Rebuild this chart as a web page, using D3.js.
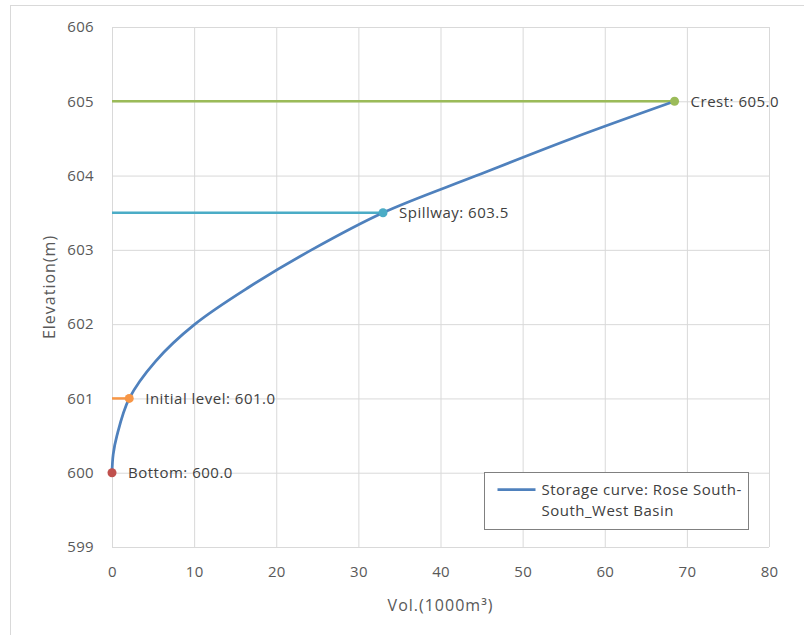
<!DOCTYPE html>
<html lang="en">
<head>
<meta charset="UTF-8" />
<title>Storage curve</title>
<script src="https://cdn.jsdelivr.net/npm/d3@7"></script>
<style>
  body { margin: 0; background: #fff; }
  text { font-family: "Open Sans", sans-serif; }
  .tick text { fill: #595959; font-size: 15px; letter-spacing: 0.3px; }
  .grid line { stroke: #d9d9d9; stroke-width: 1; }
  .grid .domain { display: none; }
  .lbl { fill: #404040; font-size: 15px; letter-spacing: 0.5px; }
  .title { fill: #595959; font-size: 16px; letter-spacing: 1px; }
</style>
</head>
<body>
<script>
// storage curve
var elevation = [600, 600.25, 600.5, 601, 601.5, 602, 602.5, 603, 603.5, 604, 604.5, 605];
var volume    = [0, 0.15, 0.6, 2.1, 5.3, 10.1, 16.7, 24.3, 33.0, 44.4, 56.0, 68.5];

// marked levels
var levelNames = ["Bottom", "Initial level", "Spillway", "Crest"];
var levelElev  = [600.0, 601.0, 603.5, 605.0];
var levelVol   = [0, 2.1, 33.0, 68.5];
var levelColor = ["#c0504d", "#f79646", "#4bacc6", "#9bbb59"];

var xTicks = [0, 10, 20, 30, 40, 50, 60, 70, 80];
var yTicks = [599, 600, 601, 602, 603, 604, 605, 606];

var width = 804, height = 635;
var margin = { top: 27, right: 35, bottom: 88, left: 112 };
var w = width - margin.left - margin.right;   // 657
var h = height - margin.top - margin.bottom;  // 520

var svg = d3.select("body").append("svg")
  .attr("width", width)
  .attr("height", height);

// outer chart frame
svg.append("rect")
  .attr("x", 10.5).attr("y", 5.5)
  .attr("width", 820).attr("height", 660)
  .attr("fill", "none").attr("stroke", "#d9d9d9");

var g = svg.append("g").attr("transform", "translate(" + margin.left + "," + margin.top + ")");

var x = d3.scaleLinear().domain([0, 80]).range([0, w]);
var y = d3.scaleLinear().domain([599, 606]).range([h, 0]);

// gridlines
g.append("g").attr("class", "grid")
  .attr("transform", "translate(0," + h + ")")
  .call(d3.axisBottom(x).tickValues(xTicks).tickSize(-h).tickFormat(""));
g.append("g").attr("class", "grid")
  .call(d3.axisLeft(y).tickValues(yTicks).tickSize(-w).tickFormat(""));

// tick labels
var xa = g.append("g")
  .attr("transform", "translate(0," + h + ")")
  .call(d3.axisBottom(x).tickValues(xTicks).tickSize(0).tickPadding(19).tickFormat(d3.format("d")));
xa.select(".domain").remove();
var ya = g.append("g")
  .call(d3.axisLeft(y).tickValues(yTicks).tickSize(0).tickPadding(18).tickFormat(d3.format("d")));
ya.select(".domain").remove();

// axis titles
svg.append("text")
  .attr("class", "title")
  .attr("x", margin.left + x(40)).attr("y", 611)
  .attr("text-anchor", "middle")
  .text("Vol.(1000m³)");
svg.append("text")
  .attr("class", "title")
  .attr("transform", "translate(55," + (margin.top + y(602.5)) + ") rotate(-90)")
  .attr("text-anchor", "middle")
  .text("Elevation(m)");

// horizontal level lines
levelElev.forEach(function(e, i) {
  if (levelVol[i] > 0) {
    g.append("line")
      .attr("x1", x(0)).attr("x2", x(levelVol[i]))
      .attr("y1", y(e)).attr("y2", y(e))
      .attr("stroke", levelColor[i]).attr("stroke-width", 2.5);
  }
});

// storage curve
var pts = elevation.map(function(e, i) { return [volume[i], e]; });
var line = d3.line()
  .x(function(d) { return x(d[0]); })
  .y(function(d) { return y(d[1]); })
  .curve(d3.curveCatmullRom.alpha(0.5));
g.append("path")
  .datum(pts)
  .attr("d", line)
  .attr("fill", "none")
  .attr("stroke", "#4f81bd")
  .attr("stroke-width", 2.75);

// level markers + labels
levelElev.forEach(function(e, i) {
  g.append("circle")
    .attr("cx", x(levelVol[i])).attr("cy", y(e))
    .attr("r", 4.5)
    .attr("fill", levelColor[i]);
  g.append("text")
    .attr("class", "lbl")
    .attr("x", x(levelVol[i]) + 16).attr("y", y(e))
    .attr("dy", "0.35em")
    .text(levelNames[i] + ": " + e.toFixed(1));
});

// legend
var lg = svg.append("g").attr("transform", "translate(484.5,472.5)");
lg.append("rect")
  .attr("width", 264).attr("height", 57)
  .attr("fill", "#fff").attr("stroke", "#808080");
lg.append("line")
  .attr("x1", 13).attr("x2", 51).attr("y1", 17).attr("y2", 17)
  .attr("stroke", "#4f81bd").attr("stroke-width", 2.75);
lg.append("text").attr("class", "lbl")
  .attr("x", 57).attr("y", 22)
  .text("Storage curve: Rose South-");
lg.append("text").attr("class", "lbl")
  .attr("x", 57).attr("y", 43)
  .text("South_West Basin");
</script>
</body>
</html>
